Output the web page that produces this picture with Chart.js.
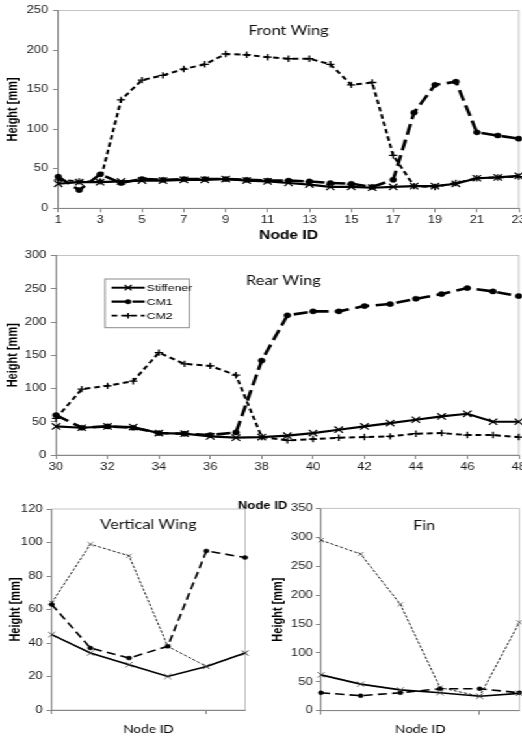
<!DOCTYPE html>
<html>
<head>
<meta charset="utf-8">
<script src="https://cdn.jsdelivr.net/npm/chart.js@4.4.0/dist/chart.umd.min.js"></script>
<style>
  html, body { margin: 0; padding: 0; background: #fff; width: 522px; height: 737px; overflow: hidden; }
  /* the figure is laid out narrow and widened as a whole */
  #sheet { position: absolute; left: 0; top: 0; width: 402px; height: 737px; transform: scaleX(1.3); transform-origin: 0 0; }
  canvas { position: absolute; }
</style>
</head>
<body>
<div id="sheet">
  <canvas id="front" width="410" height="246" style="left:0;top:0"></canvas>
  <canvas id="rear" width="410" height="271" style="left:0;top:246px"></canvas>
  <canvas id="vertical" width="201" height="237" style="left:0;top:500px"></canvas>
  <canvas id="fin" width="205" height="237" style="left:201.5px;top:500px"></canvas>
</div>
<script>
// Front wing, nodes 1-23
const frontNodes = [1, 2, 3, 4, 5, 6, 7, 8, 9, 10, 11, 12, 13, 14, 15, 16, 17, 18, 19, 20, 21, 22, 23]
const frontStiffener = [31, 33, 33, 34, 35, 35, 36, 36, 37, 35, 34, 32, 30, 27, 27, 26, 27, 28, 28, 31, 38, 39, 41]
const frontCM1 = [40, 23, 43, 32, 37, 36, 37, 37, 37, 36, 35, 35, 34, 32, 31, 27, 36, 121, 156, 160, 96, 92, 88]
const frontCM2 = [36, 34, 34, 137, 162, 168, 176, 182, 195, 194, 191, 189, 189, 182, 156, 159, 67, 28, 27, 32, 38, 39, 40]
const frontXTicks = [1, 3, 5, 7, 9, 11, 13, 15, 17, 19, 21, 23]
const frontYTicks = [0, 50, 100, 150, 200, 250]

// Rear wing, nodes 30-48
const rearNodes = [30, 31, 32, 33, 34, 35, 36, 37, 38, 39, 40, 41, 42, 43, 44, 45, 46, 47, 48]
const rearStiffener = [43, 41, 43, 42, 33, 32, 28, 26, 27, 29, 33, 38, 43, 48, 53, 58, 62, 50, 50]
const rearCM1 = [60, 41, 43, 41, 33, 32, 30, 34, 142, 210, 216, 216, 224, 227, 235, 242, 251, 246, 239]
const rearCM2 = [55, 99, 104, 111, 154, 137, 134, 120, 27, 22, 24, 26, 27, 28, 32, 33, 30, 30, 27]
const rearXTicks = [30, 32, 34, 36, 38, 40, 42, 44, 46, 48]
const rearYTicks = [0, 50, 100, 150, 200, 250, 300]

// Vertical wing and fin, six nodes each
const vertNodes = [1, 2, 3, 4, 5, 6]
const vertStiffener = [45, 34, 27, 20, 26, 34]
const vertCM1 = [63, 37, 31, 38, 95, 91]
const vertCM2 = [64, 99, 92, 38, 26, 34]
const vertYTicks = [0, 20, 40, 60, 80, 100, 120]

const finNodes = [1, 2, 3, 4, 5, 6]
const finStiffener = [62, 46, 36, 31, 25, 30]
const finCM1 = [31, 26, 31, 38, 38, 31]
const finCM2 = [295, 271, 184, 40, 25, 153]
const finYTicks = [0, 50, 100, 150, 200, 250, 300, 350]

const smallXTicks = [1, 5]

Chart.defaults.font.family = '"Liberation Sans", Arial, sans-serif'
Chart.defaults.color = '#1a1a1a'
Chart.defaults.animation = false

const AXIS = '#868686'

function series(nodes, values) {
    return nodes.map((x, i) => ({ x: x, y: values[i] }))
}

// heavy style for the two wing plots
function wideSets(nodes, stiff, cm1, cm2) {
    return [
        { label: 'Stiffener', data: series(nodes, stiff), borderColor: '#000', borderWidth: 2.2,
          pointStyle: 'crossRot', pointRadius: 4.5, pointBorderWidth: 1.2, pointBorderColor: '#000', pointBackgroundColor: '#000' },
        { label: 'CM1', data: series(nodes, cm1), borderColor: '#000', borderWidth: 2.6, borderDash: [11, 5],
          pointStyle: 'circle', pointRadius: 2.6, pointBorderWidth: 0.5, pointBorderColor: '#000', pointBackgroundColor: '#000' },
        { label: 'CM2', data: series(nodes, cm2), borderColor: '#000', borderWidth: 2, borderDash: [4.5, 3],
          pointStyle: 'cross', pointRadius: 3.2, pointBorderWidth: 1.3, pointBorderColor: '#000', pointBackgroundColor: '#000' }
    ]
}

// lighter style for the small plots
function smallSets(nodes, stiff, cm1, cm2) {
    return [
        { label: 'Stiffener', data: series(nodes, stiff), borderColor: '#000', borderWidth: 1.6,
          pointStyle: 'crossRot', pointRadius: 3.8, pointBorderWidth: 0.8, pointBorderColor: '#444', pointBackgroundColor: '#444' },
        { label: 'CM1', data: series(nodes, cm1), borderColor: '#000', borderWidth: 1.6, borderDash: [7, 4],
          pointStyle: 'circle', pointRadius: 2, pointBorderWidth: 0.5, pointBorderColor: '#000', pointBackgroundColor: '#000' },
        { label: 'CM2', data: series(nodes, cm2), borderColor: '#222', borderWidth: 1, borderDash: [2.5, 1.5],
          pointStyle: 'crossRot', pointRadius: 3, pointBorderWidth: 0.7, pointBorderColor: '#444', pointBackgroundColor: '#444' }
    ]
}

function nodeAxis(ticks, min, max, height, titleFont, titlePad, showLabels) {
    return {
        type: 'linear', min: min, max: max,
        afterBuildTicks: ax => { ax.ticks = ticks.map(v => ({ value: v })) },
        afterFit: ax => { ax.height = height },
        grid: { drawOnChartArea: false, tickLength: 4, color: AXIS },
        border: { color: AXIS },
        ticks: { font: { size: 10 }, padding: 2, maxRotation: 0, autoSkip: false,
                 callback: v => showLabels ? String(v) : '' },
        title: { display: !!titleFont, text: 'Node ID', color: '#000', font: titleFont, padding: { top: 0, bottom: titlePad } }
    }
}

function heightAxis(ticks, width, labelPad, titlePad) {
    return {
        min: ticks[0], max: ticks[ticks.length - 1],
        afterBuildTicks: ax => { ax.ticks = ticks.map(v => ({ value: v })) },
        afterFit: ax => { ax.width = width },
        grid: { drawOnChartArea: false, tickLength: 4, color: AXIS },
        border: { color: AXIS },
        ticks: { font: { size: 10 }, padding: labelPad, autoSkip: false },
        title: { display: true, text: 'Height [mm]', color: '#000', font: { size: 11, weight: 'bold' },
                 padding: { top: titlePad, bottom: 0 } }
    }
}

// plot frame, in-plot title, boxed legend and an off-centre axis caption
const panelDecor = {
    id: 'panelDecor',
    beforeDraw(chart) {
        const { ctx, chartArea: a } = chart
        ctx.save()
        ctx.strokeStyle = '#c4c4c4'
        ctx.lineWidth = 1
        ctx.strokeRect(a.left, a.top, a.right - a.left, a.bottom - a.top)
        ctx.restore()
    },
    afterDraw(chart, args, opts) {
        const { ctx, chartArea: a } = chart
        ctx.save()
        ctx.fillStyle = '#111'
        ctx.font = '12.5px Lato, "Open Sans", sans-serif'
        ctx.textAlign = 'center'
        ctx.textBaseline = 'middle'
        ctx.fillText(opts.title, (a.left + a.right) / 2 + (opts.dx || 0), a.top + opts.dy)

        if (opts.caption) {
            ctx.fillStyle = '#000'
            ctx.font = 'bold 10px "Liberation Sans", Arial, sans-serif'
            ctx.fillText(opts.caption.text, opts.caption.x, opts.caption.y)
        }

        const lg = opts.legend
        if (lg) {
            ctx.fillStyle = '#fff'
            ctx.fillRect(lg.left, lg.top, lg.width, lg.height)
            ctx.strokeStyle = '#8a8a8a'
            ctx.lineWidth = 1
            ctx.strokeRect(lg.left, lg.top, lg.width, lg.height)
            chart.data.datasets.forEach((ds, i) => {
                const y = lg.top + lg.first + i * lg.step
                const x1 = lg.left + 5
                const x2 = lg.left + 30.5
                ctx.strokeStyle = ds.borderColor
                ctx.lineWidth = ds.borderWidth * 0.9
                ctx.setLineDash(ds.borderDash || [])
                ctx.beginPath()
                ctx.moveTo(x1, y)
                ctx.lineTo(x2, y)
                ctx.stroke()
                ctx.setLineDash([])
                ctx.fillStyle = ds.pointBackgroundColor
                ctx.strokeStyle = ds.pointBorderColor
                ctx.lineWidth = ds.pointBorderWidth
                Chart.helpers.drawPoint(ctx, { pointStyle: ds.pointStyle, rotation: 0,
                    radius: ds.pointRadius * 0.85, borderWidth: ds.pointBorderWidth }, (x1 + x2) / 2, y)
                ctx.fillStyle = '#000'
                ctx.font = '9.5px "Liberation Sans", Arial, sans-serif'
                ctx.textAlign = 'left'
                ctx.fillText(ds.label, x2 + 1.5, y + 0.5)
            })
        }
        ctx.restore()
    }
}

function makeChart(id, datasets, scales, padding, decor) {
    return new Chart(document.getElementById(id), {
        type: 'line',
        data: { datasets: datasets.map(d => Object.assign({ fill: false, tension: 0, clip: false }, d)) },
        options: {
            responsive: false,
            layout: { padding: padding },
            plugins: { legend: { display: false }, tooltip: { enabled: false }, panelDecor: decor },
            scales: scales
        },
        plugins: [panelDecor]
    })
}

const boldTitle = { size: 12, weight: 'bold' }
const plainTitle = { size: 10.5, weight: 'normal', family: 'Lato, "Open Sans", sans-serif' }

makeChart('front',
    wideSets(frontNodes, frontStiffener, frontCM1, frontCM2),
    { x: nodeAxis(frontXTicks, 1, 23, 37.7, boldTitle, 3.5, true),
      y: heightAxis(frontYTicks, 44.8, 3.7, 3.4) },
    { top: 10.5, right: 11, bottom: 0, left: 0 },
    { title: 'Front Wing', dy: 20 })

makeChart('rear',
    wideSets(rearNodes, rearStiffener, rearCM1, rearCM2),
    { x: nodeAxis(rearXTicks, 30, 48, 62, null, 0, true),
      y: heightAxis(rearYTicks, 43.1, 3.5, 3.4) },
    { top: 7, right: 11, bottom: 0, left: 0 },
    { title: 'Rear Wing', dy: 25, dx: -3,
      caption: { text: 'Node ID', x: 202, y: 260.5 },
      legend: { left: 80.8, top: 33, width: 64.8, height: 48.7, first: 8.7, step: 14 } })

makeChart('vertical',
    smallSets(vertNodes, vertStiffener, vertCM1, vertCM2),
    { x: nodeAxis(smallXTicks, 1, 6, 27, plainTitle, 0.7, false),
      y: heightAxis(vertYTicks, 39.8, 3, 5.5) },
    { top: 8, right: 12.5, bottom: 0, left: 0 },
    { title: 'Vertical Wing', dy: 16 })

makeChart('fin',
    smallSets(finNodes, finStiffener, finCM1, finCM2),
    { x: nodeAxis(smallXTicks, 1, 6, 26.3, plainTitle, 0.7, false),
      y: heightAxis(finYTicks, 44.9, 2.4, 5.5) },
    { top: 8.3, right: 7.5, bottom: 0, left: 0 },
    { title: 'Fin', dy: 18, dx: 3 })
</script>
</body>
</html>
